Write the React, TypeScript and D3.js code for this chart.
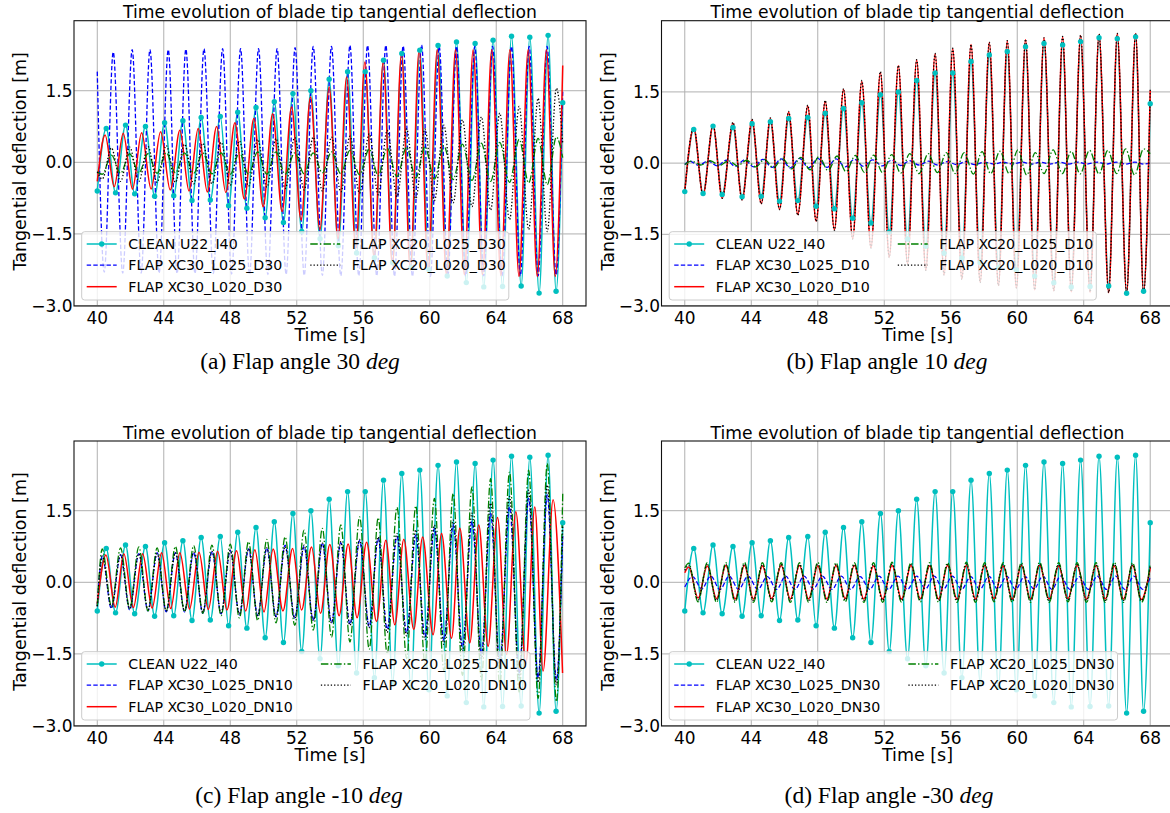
import React from "react";
import * as d3 from "d3";

// ---- values: extrema (peaks / troughs) of each signal ----
// time arrays (s), shared by the signals that run in the same phase
const tClean = [40, 40.54, 41.1, 41.7, 42.25, 42.9, 43.45, 44.05, 44.6, 45.15,
  45.7, 46.25, 46.8, 47.4, 47.9, 48.45, 49.0, 49.55, 50.1, 50.65,
  51.2, 51.77, 52.3, 52.85, 53.4, 53.95, 54.5, 55.06, 55.6, 56.12,
  56.67, 57.22, 57.77, 58.32, 58.87, 59.4, 59.95, 60.5, 61.05, 61.61,
  62.2, 62.73, 63.25, 63.81, 64.38, 64.92, 65.5, 66.02, 66.58, 67.12,
  67.6, 68];
const tFast = [40, 40.42, 40.96, 41.53, 42.1, 42.64, 43.17, 43.72, 44.27, 44.8,
  45.33, 45.88, 46.42, 46.98, 47.54, 48.08, 48.62, 49.16, 49.7, 50.26,
  50.82, 51.36, 51.9, 52.45, 52.99, 53.54, 54.09, 54.65, 55.2, 55.73,
  56.26, 56.81, 57.36, 57.88, 58.4, 58.96, 59.51, 60.04, 60.57, 61.09,
  61.61, 62.16, 62.71, 63.25, 63.78, 64.35, 64.92, 65.45, 65.98, 66.52,
  67.06, 67.6, 68];
const tRedA = [40, 40.47, 41.02, 41.56, 42.12, 42.67, 43.24, 43.81, 44.39, 44.97,
  45.52, 46.07, 46.62, 47.18, 47.73, 48.28, 48.85, 49.42, 49.98, 50.55,
  51.12, 51.69, 52.26, 52.83, 53.39, 53.95, 54.48, 55.0, 55.55, 56.1,
  56.65, 57.2, 57.75, 58.3, 58.83, 59.36, 59.9, 60.45, 61.0, 61.55,
  62.08, 62.61, 63.17, 63.73, 64.28, 64.82, 65.37, 65.92, 66.47, 67.02,
  67.55, 68];
const tDot = [40, 40.3, 40.85, 41.4, 41.95, 42.5, 43.05, 43.6, 44.15, 44.7,
  45.25, 45.8, 46.35, 46.9, 47.45, 48.0, 48.55, 49.1, 49.65, 50.2,
  50.75, 51.3, 51.88, 52.44, 52.99, 53.54, 54.09, 54.65, 55.2, 55.78,
  56.36, 56.9, 57.44, 58.03, 58.61, 59.16, 59.71, 60.28, 60.85, 61.41,
  61.97, 62.54, 63.11, 63.66, 64.21, 64.8, 65.38, 65.95, 66.52, 67.07,
  67.62, 68];
const tRedC = [40, 40.52, 41.08, 41.6, 42.17, 42.73, 43.3, 43.87, 44.42, 44.97,
  45.55, 46.12, 46.68, 47.24, 47.8, 48.38, 48.93, 49.48, 50.03, 50.58,
  51.17, 51.75, 52.29, 52.89, 53.43, 53.99, 54.55, 55.09, 55.63, 56.2,
  56.8, 57.36, 57.9, 58.44, 59.04, 59.57, 60.2, 60.71, 61.31, 61.81,
  62.41, 62.95, 63.51, 64.08, 64.62, 65.18, 65.78, 66.32, 66.82, 67.42,
  67.99];
const tRedD = [40, 40.24, 40.8, 41.35, 41.91, 42.47, 43.03, 43.59, 44.13, 44.67,
  45.23, 45.8, 46.35, 46.9, 47.45, 48.0, 48.55, 49.1, 49.65, 50.2,
  50.77, 51.35, 51.91, 52.47, 53.04, 53.61, 54.17, 54.73, 55.27, 55.81,
  56.38, 56.94, 57.49, 58.04, 58.6, 59.15, 59.7, 60.25, 60.8, 61.35,
  61.92, 62.49, 63.05, 63.6, 64.17, 64.74, 65.29, 65.84, 66.39, 66.94,
  67.47, 68];

// CLEAN U22_I40 (same run in all four plots)
const cleanV = [-0.6, 0.71, -0.64, 0.78, -0.66, 0.75, -0.71, 0.83, -0.7, 0.87,
  -0.8, 0.94, -0.79, 0.96, -0.91, 1.05, -0.96, 1.15, -1.16, 1.27,
  -1.26, 1.44, -1.45, 1.5, -1.6, 1.74, -1.75, 1.9, -1.9, 1.9,
  -2.0, 2.14, -2.1, 2.28, -2.2, 2.35, -2.25, 2.45, -2.38, 2.52,
  -2.52, 2.49, -2.61, 2.56, -2.6, 2.64, -2.59, 2.62, -2.74, 2.66,
  -2.7, 1.25];

// (a) flap 30 deg
const blueAV = [1.9, -2.3, 2.31, -2.32, 2.36, -2.32, 2.36, -2.32, 2.36, -2.33,
  2.37, -2.33, 2.38, -2.33, 2.38, -2.34, 2.38, -2.35, 2.38, -2.35,
  2.38, -2.35, 2.4, -2.37, 2.43, -2.37, 2.43, -2.38, 2.45, -2.38,
  2.45, -2.38, 2.45, -2.39, 2.44, -2.39, 2.46, -2.39, 2.43, -2.39,
  2.43, -2.38, 2.43, -2.38, 2.43, -2.38, 2.43, -2.38, 2.43, -2.38,
  2.43, -2.36, 1.5];
const redAV = [-0.4, 0.57, -0.51, 0.61, -0.56, 0.62, -0.56, 0.64, -0.58, 0.67,
  -0.6, 0.71, -0.62, 0.75, -0.63, 0.83, -0.77, 0.92, -0.93, 1.02,
  -1.03, 1.16, -1.21, 1.37, -1.41, 1.58, -1.6, 1.79, -1.8, 2.1,
  -2.0, 2.1, -2.15, 2.28, -2.25, 2.35, -2.3, 2.36, -2.35, 2.36,
  -2.35, 2.36, -2.35, 2.36, -2.37, 2.36, -2.39, 2.36, -2.39, 2.36,
  -2.39, 2.03];
const greenAV = [-0.2, -0.25, 0.15, -0.23, 0.18, -0.22, 0.18, -0.23, 0.2, -0.22,
  0.2, -0.23, 0.2, -0.24, 0.2, -0.25, 0.2, -0.25, 0.22, -0.25,
  0.22, -0.25, 0.2, -0.24, 0.2, -0.22, 0.22, -0.24, 0.25, -0.26,
  0.28, -0.28, 0.3, -0.3, 0.32, -0.33, 0.33, -0.35, 0.35, -0.36,
  0.38, -0.38, 0.4, -0.4, 0.42, -0.42, 0.48, -0.43, 0.5, -0.47,
  0.53, 0.1];
const blackAV = [-0.2, -0.35, 0.3, -0.4, 0.32, -0.4, 0.33, -0.42, 0.35, -0.42,
  0.38, -0.45, 0.4, -0.45, 0.42, -0.48, 0.45, -0.5, 0.48, -0.52,
  0.5, -0.55, 0.52, -0.58, 0.53, -0.6, 0.53, -0.62, 0.55, -0.65,
  0.6, -0.68, 0.67, -0.72, 0.7, -0.76, 0.7, -0.8, 0.78, -0.85,
  0.89, -0.93, 0.95, -1.0, 1.03, -1.2, 1.17, -1.41, 1.34, -1.45,
  1.55, 0.4];

// (b) flap 10 deg
const blueBV = [-0.03, 0.04, -0.05, 0.05, -0.06, 0.06, -0.07, 0.07, -0.08, 0.08,
  -0.09, 0.09, -0.1, 0.1, -0.1, 0.1, -0.09, 0.09, -0.08, 0.08,
  -0.07, 0.07, -0.06, 0.06, -0.05, 0.05, -0.04, 0.04, -0.04, 0.03,
  -0.03, 0.03, -0.03, 0.02, -0.02, 0.02, -0.02, 0.02, -0.02, 0.02,
  -0.02, 0.02, -0.02, 0.02, -0.02, 0.02, -0.02, 0.02, -0.02, 0.02,
  -0.02, 0.0];
const redBV = [-0.6, 0.74, -0.67, 0.8, -0.74, 0.84, -0.77, 0.91, -0.85, 0.94,
  -0.97, 1.07, -1.08, 1.2, -1.22, 1.3, -1.4, 1.55, -1.59, 1.72,
  -1.78, 1.91, -1.98, 2.05, -2.12, 2.17, -2.25, 2.3, -2.35, 2.41,
  -2.44, 2.5, -2.51, 2.54, -2.58, 2.57, -2.63, 2.6, -2.67, 2.64,
  -2.69, 2.66, -2.71, 2.69, -2.72, 2.71, -2.73, 2.73, -2.74, 2.73,
  -2.74, 1.53];
const greenBV = [-0.03, 0.04, -0.04, 0.05, -0.05, 0.05, -0.06, 0.06, -0.08, 0.08,
  -0.1, 0.1, -0.12, 0.12, -0.14, 0.14, -0.16, 0.15, -0.18, 0.16,
  -0.2, 0.17, -0.2, 0.18, -0.21, 0.2, -0.22, 0.2, -0.2, 0.22,
  -0.22, 0.22, -0.23, 0.24, -0.22, 0.25, -0.22, 0.28, -0.25, 0.22,
  -0.22, 0.28, -0.22, 0.25, -0.23, 0.27, -0.23, 0.27, -0.22, 0.3,
  -0.25, 0.3, 0.2];
const blackBV = [-0.6, 0.76, -0.68, 0.81, -0.74, 0.86, -0.78, 0.92, -0.86, 0.95,
  -0.98, 1.09, -1.1, 1.22, -1.23, 1.32, -1.42, 1.57, -1.6, 1.74,
  -1.79, 1.93, -1.99, 2.06, -2.13, 2.18, -2.26, 2.31, -2.36, 2.42,
  -2.45, 2.5, -2.52, 2.55, -2.58, 2.58, -2.63, 2.61, -2.67, 2.64,
  -2.69, 2.67, -2.71, 2.7, -2.72, 2.72, -2.73, 2.73, -2.74, 2.74,
  -2.74, 1.55];

// (c) flap -10 deg
const blueCV = [-0.5, 0.55, -0.55, 0.58, -0.58, 0.6, -0.6, 0.62, -0.62, 0.62,
  -0.62, 0.63, -0.65, 0.65, -0.66, 0.67, -0.68, 0.7, -0.7, 0.72,
  -0.72, 0.78, -0.75, 0.75, -0.8, 0.82, -0.85, 0.83, -0.88, 0.87,
  -0.92, 0.92, -0.98, 0.96, -1.05, 0.99, -1.14, 1.13, -1.21, 1.2,
  -1.35, 1.27, -1.5, 1.44, -1.7, 1.58, -1.9, 1.76, -2.0, 1.83,
  -2.05, 0.97];
const redCV = [-0.45, 0.57, -0.52, 0.6, -0.53, 0.6, -0.54, 0.62, -0.55, 0.62,
  -0.56, 0.63, -0.57, 0.65, -0.58, 0.66, -0.6, 0.68, -0.62, 0.7,
  -0.6, 0.71, -0.58, 0.74, -0.65, 0.79, -0.7, 0.8, -0.74, 0.84,
  -0.82, 0.88, -0.89, 0.9, -0.99, 0.95, -1.1, 1.02, -1.17, 1.13,
  -1.27, 1.2, -1.34, 1.36, -1.51, 1.48, -1.71, 1.58, -1.86, 1.73,
  -1.9];
const greenCV = [-0.5, 0.7, -0.5, 0.72, -0.55, 0.74, -0.6, 0.72, -0.6, 0.75,
  -0.62, 0.77, -0.65, 0.78, -0.7, 0.8, -0.75, 0.85, -0.8, 0.9,
  -0.85, 0.95, -0.9, 1.09, -1.0, 1.13, -1.15, 1.2, -1.25, 1.37,
  -1.4, 1.35, -1.5, 1.57, -1.6, 1.6, -1.7, 1.76, -1.85, 1.86,
  -1.95, 2.0, -2.05, 2.17, -2.15, 2.31, -2.3, 2.35, -2.43, 2.49,
  -2.5, 1.86];
const blackCV = [-0.5, 0.55, -0.52, 0.57, -0.55, 0.6, -0.57, 0.6, -0.6, 0.62,
  -0.6, 0.63, -0.62, 0.65, -0.64, 0.67, -0.66, 0.7, -0.7, 0.72,
  -0.72, 0.75, -0.75, 0.78, -0.8, 0.82, -0.85, 0.85, -0.9, 0.9,
  -0.95, 0.95, -1.05, 1.02, -1.12, 1.1, -1.2, 1.2, -1.3, 1.3,
  -1.45, 1.45, -1.6, 1.66, -1.8, 1.8, -2.0, 1.93, -2.1, 2.04,
  -2.15, 1.2];

// (d) flap -30 deg
const blueDV = [-0.1, 0.12, -0.14, 0.13, -0.15, 0.13, -0.15, 0.13, -0.15, 0.12,
  -0.15, 0.13, -0.15, 0.13, -0.14, 0.13, -0.15, 0.13, -0.15, 0.12,
  -0.15, 0.13, -0.15, 0.13, -0.15, 0.13, -0.14, 0.13, -0.15, 0.13,
  -0.15, 0.12, -0.15, 0.13, -0.15, 0.13, -0.15, 0.13, -0.14, 0.13,
  -0.15, 0.13, -0.15, 0.12, -0.15, 0.13, -0.15, 0.13, -0.15, 0.13,
  -0.15, 0.1];
const redDV = [0.2, 0.32, -0.33, 0.34, -0.34, 0.35, -0.35, 0.35, -0.35, 0.34,
  -0.34, 0.35, -0.35, 0.35, -0.35, 0.34, -0.35, 0.35, -0.34, 0.35,
  -0.35, 0.34, -0.35, 0.35, -0.35, 0.35, -0.34, 0.34, -0.35, 0.35,
  -0.35, 0.35, -0.35, 0.35, -0.34, 0.34, -0.35, 0.35, -0.35, 0.35,
  -0.35, 0.34, -0.34, 0.35, -0.35, 0.35, -0.35, 0.34, -0.35, 0.35,
  -0.36, 0.3];
const greenDV = [0.3, 0.4, -0.41, 0.41, -0.42, 0.41, -0.42, 0.42, -0.42, 0.41,
  -0.41, 0.41, -0.42, 0.41, -0.42, 0.42, -0.42, 0.41, -0.41, 0.41,
  -0.42, 0.41, -0.42, 0.42, -0.42, 0.41, -0.41, 0.41, -0.42, 0.41,
  -0.42, 0.42, -0.42, 0.41, -0.41, 0.41, -0.42, 0.41, -0.42, 0.42,
  -0.42, 0.41, -0.41, 0.41, -0.42, 0.41, -0.42, 0.42, -0.42, 0.41,
  -0.42, 0.38];
const blackDV = [0.25, 0.36, -0.37, 0.37, -0.38, 0.37, -0.38, 0.38, -0.38, 0.37,
  -0.37, 0.37, -0.38, 0.37, -0.38, 0.38, -0.38, 0.37, -0.37, 0.37,
  -0.38, 0.37, -0.38, 0.38, -0.38, 0.37, -0.37, 0.37, -0.38, 0.37,
  -0.38, 0.38, -0.38, 0.37, -0.37, 0.37, -0.38, 0.37, -0.38, 0.38,
  -0.38, 0.37, -0.37, 0.37, -0.38, 0.37, -0.38, 0.38, -0.38, 0.37,
  -0.38, 0.33];

const labelsA = ["CLEAN U22_I40", "FLAP XC30_L025_D30", "FLAP XC30_L020_D30", "FLAP XC20_L025_D30", "FLAP XC20_L020_D30"];
const labelsB = ["CLEAN U22_I40", "FLAP XC30_L025_D10", "FLAP XC30_L020_D10", "FLAP XC20_L025_D10", "FLAP XC20_L020_D10"];
const labelsC = ["CLEAN U22_I40", "FLAP XC30_L025_DN10", "FLAP XC30_L020_DN10", "FLAP XC20_L025_DN10", "FLAP XC20_L020_DN10"];
const labelsD = ["CLEAN U22_I40", "FLAP XC30_L025_DN30", "FLAP XC30_L020_DN30", "FLAP XC20_L025_DN30", "FLAP XC20_L020_DN30"];

const xTicks = [40, 44, 48, 52, 56, 60, 64, 68];
const yTicks = [-3.0, -1.5, 0.0, 1.5];
const title = "Time evolution of blade tip tangential deflection";

// ---- styles ----
const FONT = "'DejaVu Sans', sans-serif";
const SERIF = "'Liberation Serif', 'DejaVu Serif', serif";
const styles = [
  { color: "#00bfbf", dash: "", width: 1.5 },
  { color: "#0000ff", dash: "4.4,2.2", width: 1.3 },
  { color: "#ff0000", dash: "", width: 1.5 },
  { color: "#008000", dash: "7.5,2.2,1.4,2.2", width: 1.3 },
  { color: "#000000", dash: "1.3,2", width: 1.3 },
];

const zip = (t: number[], v: number[]): [number, number][] =>
  d3.range(Math.min(t.length, v.length)).map((i) => [t[i], v[i]] as [number, number]);

let canvasCtx: CanvasRenderingContext2D | null = null;
function textW(s: string, size: number) {
  if (!canvasCtx) canvasCtx = document.createElement("canvas").getContext("2d");
  if (!canvasCtx) return s.length * size * 0.6;
  canvasCtx.font = `${size}px 'DejaVu Sans'`;
  return canvasCtx.measureText(s).width;
}

function Panel({ id, left, top, right, bottom, yDomain, series, labels, caption, capX, capY }: any) {
  const x = d3.scaleLinear().domain([38.6, 69.4]).range([left, right]);
  const y = d3.scaleLinear().domain(yDomain).range([bottom, top]);
  const line = d3
    .line<[number, number]>()
    .x((d) => x(d[0]))
    .y((d) => y(d[1]))
    .curve(d3.curveMonotoneX);
  const cx = (left + right) / 2;
  const cy = (top + bottom) / 2;

  // legend layout
  const fs = 14.2;
  const lx = left + 7.7;
  const lh = 68.3;
  const ly = bottom - 6 - lh;
  const h1 = lx + 5;
  const t1 = h1 + 41.6;
  const col1 = Math.max(...labels.slice(0, 3).map((s: string) => textW(s, fs)));
  const col2 = Math.max(...labels.slice(3).map((s: string) => textW(s, fs)));
  const h2 = t1 + col1 + 28;
  const t2 = h2 + 41.6;
  const lw = t2 + col2 + 3 - lx;
  const rows = [ly + 12.3, ly + 33.5, ly + 55];
  const items = labels.map((lab: string, i: number) => ({
    lab,
    i,
    hx: i < 3 ? h1 : h2,
    tx: i < 3 ? t1 : t2,
    ry: rows[i < 3 ? i : i - 3],
  }));

  return (
    <g>
      <defs>
        <clipPath id={`clip-${id}`}>
          <rect x={left} y={top} width={right - left} height={bottom - top} />
        </clipPath>
      </defs>
      {/* grid */}
      {xTicks.map((t) => (
        <line key={`gx${t}`} x1={x(t)} x2={x(t)} y1={top} y2={bottom} stroke="#b0b0b0" strokeWidth={1} />
      ))}
      {yTicks.map((t) => (
        <line key={`gy${t}`} x1={left} x2={right} y1={y(t)} y2={y(t)} stroke="#b0b0b0" strokeWidth={1} />
      ))}
      {/* data */}
      <g clipPath={`url(#clip-${id})`}>
        {series.map((s: [number, number][], i: number) => (
          <path
            key={i}
            d={line(s) || ""}
            fill="none"
            stroke={styles[i].color}
            strokeWidth={styles[i].width}
            strokeDasharray={styles[i].dash || undefined}
          />
        ))}
        {series[0].map((d: [number, number], k: number) => (
          <circle key={`m${k}`} cx={x(d[0])} cy={y(d[1])} r={2.7} fill={styles[0].color} />
        ))}
      </g>
      {/* frame */}
      <rect x={left} y={top} width={right - left} height={bottom - top} fill="none" stroke="#111" strokeWidth={1.1} />
      {/* ticks labels */}
      {xTicks.map((t) => (
        <text key={`tx${t}`} x={x(t)} y={bottom + 17.8} textAnchor="middle" fontSize={17} fontFamily={FONT} fill="#000">
          {t}
        </text>
      ))}
      {yTicks.map((t) => (
        <text key={`ty${t}`} x={left - 1.5} y={y(t) + 6} textAnchor="end" fontSize={17} fontFamily={FONT} fill="#000">
          {d3.format(".1f")(t).replace("-", "\u2212")}
        </text>
      ))}
      <text x={cx} y={bottom + 35} textAnchor="middle" fontSize={17.5} fontFamily={FONT}>
        Time [s]
      </text>
      <text
        transform={`translate(${left - 48},${cy - 2}) rotate(-90)`}
        textAnchor="middle"
        fontSize={17.5}
        fontFamily={FONT}
      >
        Tangential deflection [m]
      </text>
      <text x={cx} y={top - 2.4} textAnchor="middle" fontSize={17.2} fontFamily={FONT}>
        {title}
      </text>
      {/* legend */}
      <rect x={lx} y={ly} width={lw} height={lh} rx={3} fill="#ffffff" fillOpacity={0.8} stroke="#cccccc" strokeWidth={1} />
      {items.map((it: any) => (
        <g key={`lg${it.i}`}>
          <line
            x1={it.hx}
            x2={it.hx + 30}
            y1={it.ry}
            y2={it.ry}
            stroke={styles[it.i].color}
            strokeWidth={styles[it.i].width}
            strokeDasharray={styles[it.i].dash || undefined}
          />
          {it.i === 0 && <circle cx={it.hx + 15} cy={it.ry} r={2.7} fill={styles[0].color} />}
          <text x={it.tx} y={it.ry + 5} fontSize={fs} fontFamily={FONT} fill="#000">
            {it.lab}
          </text>
        </g>
      ))}
      {/* sub caption */}
      <text x={capX} y={capY} textAnchor="middle" fontSize={23.5} fontFamily={SERIF} fill="#000">
        {caption}
        <tspan fontStyle="italic">deg</tspan>
      </text>
    </g>
  );
}

export default function App() {
  const clean = zip(tClean, cleanV);
  const panels = [
    {
      id: "a", left: 74, top: 20.7, right: 586, bottom: 306, yDomain: [-3.01, 2.967],
      series: [clean, zip(tFast, blueAV), zip(tRedA, redAV), zip(tDot, greenAV), zip(tDot, blackAV)],
      labels: labelsA, caption: "(a) Flap angle 30 ", capX: 300, capY: 369,
    },
    {
      id: "b", left: 661.5, top: 20.7, right: 1173.5, bottom: 306, yDomain: [-3.01, 3.0],
      series: [clean, zip(tDot, blueBV), zip(tClean, redBV), zip(tFast, greenBV), zip(tClean, blackBV)],
      labels: labelsB, caption: "(b) Flap angle 10 ", capX: 887, capY: 369,
    },
    {
      id: "c", left: 74, top: 441, right: 586, bottom: 726, yDomain: [-3.01, 2.96],
      series: [clean, zip(tDot, blueCV), zip(tRedC, redCV), zip(tDot, greenCV), zip(tDot, blackCV)],
      labels: labelsC, caption: "(c) Flap angle -10 ", capX: 299, capY: 803,
    },
    {
      id: "d", left: 661.5, top: 441, right: 1173.5, bottom: 726, yDomain: [-3.01, 2.96],
      series: [clean, zip(tRedA, blueDV), zip(tRedD, redDV), zip(tRedD, greenDV), zip(tRedD, blackDV)],
      labels: labelsD, caption: "(d) Flap angle -30 ", capX: 889, capY: 803,
    },
  ];
  return (
    <svg
      width={1170}
      height={813}
      viewBox="0 0 1170 813"
      style={{ position: "absolute", left: 0, top: 0, background: "#fff" }}
    >
      <rect x={0} y={0} width={1170} height={813} fill="#fff" />
      {panels.map((p) => (
        <Panel key={p.id} {...p} />
      ))}
    </svg>
  );
}
